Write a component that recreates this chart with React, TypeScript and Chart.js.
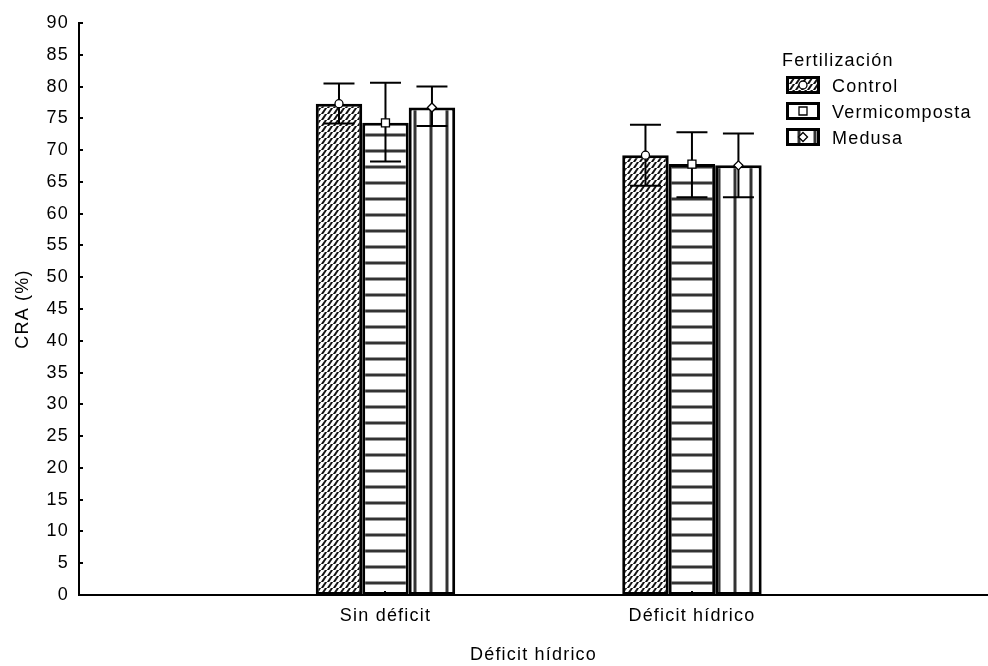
import React, { useEffect, useRef } from 'react';
import { Chart, registerables } from 'chart.js';

Chart.register(...registerables);

const categories = ['Sin déficit', 'Déficit hídrico'];
const categoryPositions = [1, 2];
const seriesNames = ['Control', 'Vermicomposta', 'Medusa'];
const legendTitle = 'Fertilización';
const xTitle = 'Déficit hídrico';
const yTitle = 'CRA (%)';

const controlMean = [77.3, 69.2];
const controlLow = [74.2, 64.4];
const controlHigh = [80.5, 74.0];
const vermMean = [74.3, 67.8];
const vermLow = [68.2, 62.6];
const vermHigh = [80.6, 72.8];
const medusaMean = [76.7, 67.6];
const medusaLow = [73.8, 62.6];
const medusaHigh = [80.0, 72.6];

const yTicks = [0, 5, 10, 15, 20, 25, 30, 35, 40, 45, 50, 55, 60, 65, 70, 75, 80, 85, 90];

const means = [controlMean, vermMean, medusaMean];
const lows = [controlLow, vermLow, medusaLow];
const highs = [controlHigh, vermHigh, medusaHigh];
const markers = ['circle', 'square', 'diamond'];

const FONT = "'Liberation Sans', Arial, sans-serif";
const FSIZE = 18;
const LSP = '1.2px';

function makePattern(kind: string): CanvasPattern | string {
  const c = document.createElement('canvas');
  const size = kind === 'diag' ? 6 : 16;
  c.width = size;
  c.height = size;
  const g = c.getContext('2d')!;
  g.fillStyle = '#fff';
  g.fillRect(0, 0, size, size);
  if (kind === 'diag') {
    g.strokeStyle = '#111';
    g.lineWidth = 2;
    for (let o = -6; o <= 12; o += 6) {
      g.beginPath();
      g.moveTo(o - 6, 6 + 6);
      g.lineTo(o + 6, 0 - 6);
      g.stroke();
    }
  } else if (kind === 'horiz') {
    g.fillStyle = '#999';
    g.fillRect(0, 5, size, 1);
    g.fillRect(0, 8, size, 1);
    g.fillStyle = '#333';
    g.fillRect(0, 6, size, 2);
  } else {
    g.fillStyle = '#999';
    g.fillRect(13, 0, 1, size);
    g.fillRect(0, 0, 1, size);
    g.fillStyle = '#333';
    g.fillRect(14, 0, 2, size);
  }
  const p = g.createPattern(c, 'repeat');
  return p || '#fff';
}

function drawMarker(ctx: CanvasRenderingContext2D, kind: string, x: number, y: number) {
  ctx.save();
  ctx.fillStyle = '#fff';
  ctx.strokeStyle = '#000';
  ctx.lineWidth = 1.3;
  ctx.beginPath();
  if (kind === 'circle') {
    ctx.arc(x, y, 4, 0, Math.PI * 2);
  } else if (kind === 'square') {
    ctx.rect(x - 4, y - 4, 8, 8);
  } else {
    ctx.moveTo(x, y - 4.5);
    ctx.lineTo(x + 4.5, y);
    ctx.lineTo(x, y + 4.5);
    ctx.lineTo(x - 4.5, y);
    ctx.closePath();
  }
  ctx.fill();
  ctx.stroke();
  ctx.restore();
}

export default function App() {
  const ref = useRef<HTMLCanvasElement | null>(null);

  useEffect(() => {
    const canvas = ref.current;
    if (!canvas) return;
    const patterns = [makePattern('diag'), makePattern('horiz'), makePattern('vert')];

    const spacingPlugin = {
      id: 'spacing',
      beforeUpdate(chart: any) {
        chart.ctx.letterSpacing = LSP;
      },
      beforeDraw(chart: any) {
        chart.ctx.letterSpacing = LSP;
      },
    };

    const errorPlugin = {
      id: 'errorbars',
      afterDatasetsDraw(chart: any) {
        const ctx = chart.ctx as CanvasRenderingContext2D;
        const ys = chart.scales.y;
        seriesNames.forEach((_, s) => {
          const meta = chart.getDatasetMeta(s);
          meta.data.forEach((bar: any, i: number) => {
            const cx = bar.x;
            const yl = ys.getPixelForValue(lows[s][i]);
            const yh = ys.getPixelForValue(highs[s][i]);
            const ym = ys.getPixelForValue(means[s][i]);
            ctx.save();
            ctx.strokeStyle = '#000';
            ctx.lineWidth = 2;
            ctx.beginPath();
            ctx.moveTo(cx, yh);
            ctx.lineTo(cx, yl);
            ctx.moveTo(cx - 15.5, yh);
            ctx.lineTo(cx + 15.5, yh);
            ctx.moveTo(cx - 15.5, yl);
            ctx.lineTo(cx + 15.5, yl);
            ctx.stroke();
            ctx.restore();
            drawMarker(ctx, markers[s], cx, ym);
          });
        });
      },
      afterDraw(chart: any) {
        const ctx = chart.ctx as CanvasRenderingContext2D;
        const ys = chart.scales.y;
        const xs = chart.scales.x;
        const area = chart.chartArea;
        ctx.save();
        ctx.strokeStyle = '#000';
        ctx.lineWidth = 2;
        ctx.beginPath();
        yTicks.forEach((v) => {
          const py = Math.round(ys.getPixelForValue(v));
          ctx.moveTo(area.left, py);
          ctx.lineTo(area.left + 4, py);
        });
        categoryPositions.forEach((v) => {
          const px = Math.round(xs.getPixelForValue(v));
          ctx.moveTo(px, area.bottom);
          ctx.lineTo(px, area.bottom - 4);
        });
        ctx.stroke();

        // legend
        ctx.letterSpacing = LSP;
        ctx.fillStyle = '#000';
        ctx.font = `${FSIZE}px ${FONT}`;
        ctx.textBaseline = 'alphabetic';
        ctx.textAlign = 'left';
        ctx.fillText(legendTitle, 782, 66);
        const tops = [76, 102, 128];
        seriesNames.forEach((name, s) => {
          const bx = 786;
          const by = tops[s];
          const bw = 34;
          const bh = 18;
          ctx.fillStyle = patterns[s] as any;
          ctx.fillRect(bx, by, bw, bh);
          ctx.strokeStyle = '#000';
          ctx.lineWidth = 3;
          ctx.strokeRect(bx + 1.5, by + 1.5, bw - 3, bh - 3);
          drawMarker(ctx, markers[s], bx + bw / 2, by + bh / 2);
          ctx.fillStyle = '#000';
          ctx.fillText(name, 832, by + bh / 2 + 6.5);
        });
        ctx.restore();
      },
    };

    const chart = new Chart(canvas, {
      type: 'bar',
      data: {
        datasets: seriesNames.map((name, s) => ({
          label: name,
          data: categoryPositions.map((x, i) => ({ x, y: means[s][i] })),
          backgroundColor: patterns[s] as any,
          borderColor: '#000',
          borderWidth: 3,
          borderSkipped: false,
          categoryPercentage: 0.455,
          barPercentage: 1,
        })),
      },
      options: {
        animation: false,
        responsive: false,
        devicePixelRatio: 1,
        layout: { padding: { top: 23, left: 0, right: 0, bottom: 0 } },
        plugins: {
          legend: { display: false },
          tooltip: { enabled: false },
        },
        scales: {
          x: {
            type: 'linear',
            min: 0,
            max: 2.966,
            offset: false,
            grid: { display: false, offset: false, drawTicks: false },
            border: { display: true, color: '#000', width: 2 },
            afterBuildTicks(scale: any) {
              scale.ticks = categoryPositions.map((v) => ({ value: v }));
            },
            afterFit(scale: any) {
              scale.height = 71;
            },
            ticks: {
              autoSkip: false,
              maxRotation: 0,
              padding: 10,
              color: '#000',
              font: { family: FONT, size: FSIZE },
              callback: (v: any) => {
                const idx = categoryPositions.indexOf(Number(v));
                return idx >= 0 ? categories[idx] : '';
              },
            },
            title: {
              display: true,
              text: xTitle,
              color: '#000',
              font: { family: FONT, size: FSIZE },
              padding: { top: 0, bottom: 0 },
            },
          },
          y: {
            type: 'linear',
            min: 0,
            max: 90,
            grid: { display: false, drawTicks: false },
            border: { display: true, color: '#000', width: 2 },
            afterBuildTicks(scale: any) {
              scale.ticks = yTicks.map((v) => ({ value: v }));
            },
            afterFit(scale: any) {
              scale.width = 79;
            },
            ticks: {
              padding: 10,
              color: '#000',
              font: { family: FONT, size: FSIZE },
            },
            title: {
              display: true,
              text: yTitle,
              color: '#000',
              font: { family: FONT, size: FSIZE },
              padding: { top: 12, bottom: 0 },
            },
          },
        },
      },
      plugins: [spacingPlugin, errorPlugin],
    } as any);

    return () => chart.destroy();
  }, []);

  return (
    <div style={{ position: 'fixed', left: 0, top: 0, width: 988, height: 666, background: '#fff' }}>
      <canvas ref={ref} width={988} height={666} style={{ display: 'block' }} />
    </div>
  );
}
